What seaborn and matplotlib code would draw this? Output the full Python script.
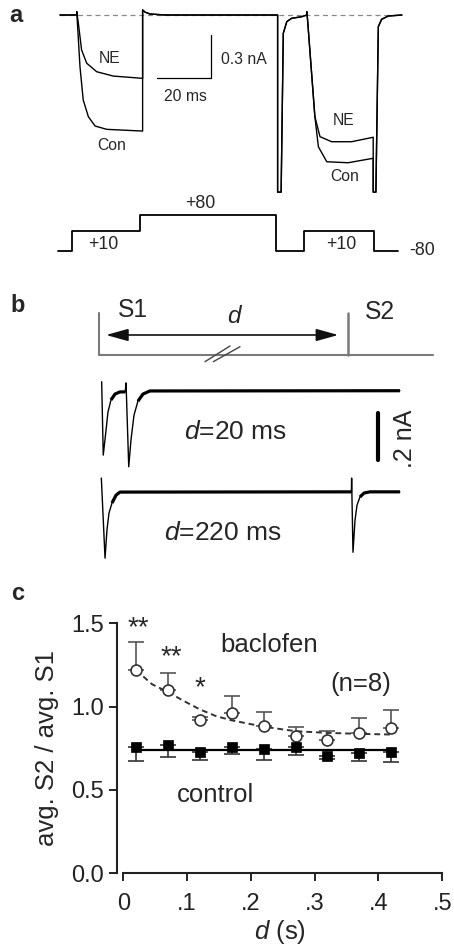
import numpy as np
import matplotlib.pyplot as plt
import seaborn as sns

# ---- panel a: Ca currents (ms, nA) ----
con_t = [0, 6.2, 6.2, 7.4, 8.6, 10.5, 13.0, 17.3, 30.6, 30.6, 31.5, 33.3, 38.9,
         80.6, 80.6, 81.9, 82.7, 84.0, 85.8, 89.5, 91.4, 91.4, 91.7, 94.4, 95.7, 98.8, 106.7, 116.0,
         116.0, 117.0, 117.9, 119.1, 121.6, 126.6]
con_i = [0, 0, 0.023, -0.359, -0.59, -0.706, -0.771, -0.794, -0.806, 0.035, 0.02, 0.007, 0,
         0, -1.23, -1.23, -0.127, -0.046, -0.023, -0.012, 0, 0.023, -0.035, -0.706, -0.915, -1.019, -1.026, -0.995,
         -1.23, -1.23, -0.081, -0.03, -0.007, 0]
ne_t = [0, 6.2, 6.2, 6.8, 8.0, 9.9, 13.6, 19.7, 30.6, 30.6, 31.5, 33.3, 38.9,
        80.6, 80.6, 81.9, 82.7, 84.0, 85.8, 89.5, 91.4, 91.4, 91.7, 94.4, 96.3, 100.6, 108.0, 116.0,
        116.0, 117.0, 117.9, 119.1, 121.6, 126.6]
ne_i = [0, 0, 0.023, -0.058, -0.243, -0.335, -0.394, -0.424, -0.44, 0.035, 0.02, 0.007, 0,
        0, -1.23, -1.23, -0.127, -0.046, -0.023, -0.012, 0, 0.023, -0.035, -0.706, -0.845, -0.88, -0.88, -0.849,
        -1.23, -1.23, -0.081, -0.03, -0.007, 0]

# voltage protocol (ms, mV)
prot_t = [-0.7, 4.3, 29.6, 80.0, 90.4, 116.3, 125.2]
prot_v = [-80, 10, 80, -80, 10, -80, -80]

# ---- panel b: paired-pulse traces (ms, nA) ----
d20_t = [0.6, 2.0, 4.5, 6.2, 8.9, 12.5, 16.9, 21.6, 22.3, 24.7, 26.7, 29.4, 32.9, 37.4, 43.6, 266.2]
d20_i = [0.038, -0.272, -0.166, -0.09, -0.039, -0.014, -0.005, -0.005, 0.033, -0.321, -0.208,
         -0.103, -0.044, -0.014, -0.001, 0]
d220_t = [0.3, 3.6, 5.3, 7.1, 9.8, 13.4, 16.9, 223.0, 223.2, 224.4, 226.2, 228.0, 230.6, 234.2, 239.5, 266.2]
d220_i = [0.058, -0.28, -0.162, -0.09, -0.047, -0.014, -0.001, 0, 0.058, -0.255, -0.12, -0.056,
          -0.022, -0.005, 0, 0]
d220_offset = -0.427

# ---- panel c: S2/S1 ratio ----
d_s = [0.02, 0.07, 0.12, 0.17, 0.22, 0.27, 0.32, 0.37, 0.42]
baclofen = [1.221, 1.098, 0.920, 0.964, 0.884, 0.827, 0.799, 0.843, 0.871]
baclofen_sem = [0.165, 0.107, 0.02, 0.10, 0.084, 0.053, 0.054, 0.087, 0.107]
control = [0.757, 0.769, 0.727, 0.759, 0.749, 0.757, 0.707, 0.723, 0.729]
control_sem = [0.084, 0.072, 0.048, 0.04, 0.066, 0.044, 0.02, 0.05, 0.06]
fit_x = [0.02, 0.045, 0.07, 0.095, 0.12, 0.145, 0.17, 0.22, 0.27, 0.32, 0.37, 0.42]
fit_y = [1.22, 1.135, 1.088, 1.034, 0.984, 0.944, 0.918, 0.88, 0.853, 0.843, 0.837, 0.833]
control_fit_x = [0.02, 0.42]
control_fit_y = [0.743, 0.743]
x_ticks = [0, 0.1, 0.2, 0.3, 0.4, 0.5]
x_ticklabels = ['0', '.1', '.2', '.3', '.4', '.5']
y_ticks = [0.0, 0.5, 1.0, 1.5]

sns.set_theme(style="ticks")
plt.rcParams['font.family'] = ['Liberation Sans', 'DejaVu Sans']
plt.rcParams['mathtext.fontset'] = 'custom'
plt.rcParams['mathtext.it'] = 'Liberation Sans:italic'
plt.rcParams['mathtext.rm'] = 'Liberation Sans'

W, H = 454, 952
fig = plt.figure(figsize=(W / 100, H / 100), dpi=100)


def px_axes(left, top, right, bottom):
    return fig.add_axes([left / W, 1 - bottom / H, (right - left) / W, (bottom - top) / H])


def line(ax, x, y, **kw):
    sns.lineplot(x=x, y=y, ax=ax, sort=False, estimator=None, **kw)


# ---------------- panel a ----------------
ax_a = px_axes(57.3, 0.6, 411, 202.2)
ax_a.set_xlim(-1, 130)
ax_a.set_ylim(-1.3, 0.1)
ax_a.axis('off')
ax_a.plot([0, 126.6], [0, 0], color='#888888', lw=0.9, ls=(0, (4, 3)), zorder=1)
line(ax_a, con_t, con_i, color='black', lw=1.0)
line(ax_a, ne_t, ne_i, color='black', lw=1.0)
# scale bar 20 ms / 0.3 nA
ax_a.plot([35.8, 55.8, 55.8], [-0.44, -0.44, -0.14], color='black', lw=0.9)
ta = dict(fontsize=11.3, ha='center', va='center')
ax_a.text(18.5, -0.30, 'NE', **ta)
ax_a.text(19.1, -0.903, 'Con', **ta)
ax_a.text(104.9, -0.734, 'NE', **ta)
ax_a.text(105.6, -1.123, 'Con', **ta)
ax_a.text(46.3, -0.567, '20 ms', **ta)
ax_a.text(59.5, -0.3125, '0.3 nA', fontsize=11.3, ha='left', va='center')

ax_p = px_axes(57.3, 210.5, 411, 255.5)
ax_p.set_xlim(-1, 130)
ax_p.set_ylim(-100, 100)
ax_p.axis('off')
line(ax_p, prot_t, prot_v, color='black', lw=1.3, drawstyle='steps-post')
tp = dict(fontsize=12.8, ha='center', va='center', clip_on=False)
ax_p.text(16.0, -48.9, '+10', **tp)
ax_p.text(51.9, 128.9, '+80', **tp)
ax_p.text(104.3, -53.3, '+10', **tp)
ax_p.text(134.0, -78.7, '-80', **tp)

# ---------------- panel b ----------------
ax_s = px_axes(95, 300, 440, 367.7)
ax_s.set_xlim(-5.34, 301.9)
ax_s.set_ylim(-0.3, 1.3)
ax_s.axis('off')
gray = '#7a7a7a'
ax_s.plot([-1.8, -1.8, 295.9], [1, 0, 0], color=gray, lw=1.5)
ax_s.plot([219.7, 219.7], [1, 0], color=gray, lw=1.8)
ax_s.plot([-1.8], [0], alpha=0)
ax_s.annotate('', xy=(211.3, 0.473), xytext=(4.5, 0.473),
              arrowprops=dict(arrowstyle='<|-|>,head_length=0.9,head_width=0.25',
                              color='#111111', lw=1.2, mutation_scale=15,
                              shrinkA=0, shrinkB=0))
ax_s.plot([92.6, 114.9], [-0.158, 0.213], color='#444444', lw=1.0)
ax_s.plot([100.0, 123.8], [-0.158, 0.196], color='#444444', lw=1.0)
ax_s.text(28.8, 1.064, 'S1', fontsize=17.7, ha='center', va='center')
ax_s.text(119.3, 0.905, '$d$', fontsize=17.5, ha='center', va='center')
ax_s.text(248.4, 1.024, 'S2', fontsize=17.7, ha='center', va='center')

ax_b = px_axes(95, 370, 440, 570)
ax_b.set_xlim(-5.34, 301.9)
ax_b.set_ylim(-0.757, 0.0875)
ax_b.axis('off')
d220_shift = np.array(d220_i) + d220_offset
line(ax_b, d20_t, d20_i, color='black', lw=1.0)
line(ax_b, d220_t, list(d220_shift), color='black', lw=1.0)
# the noisy baseline parts look thick
for tt, ii, off in [(d20_t, d20_i, 0.0), (d220_t, d220_i, d220_offset)]:
    ii = np.array(ii)
    flat = np.where((np.abs(ii) < 0.05) & (ii < 0.02), ii + off, np.nan)
    ax_b.plot(tt, flat, color='black', lw=2.3, solid_capstyle='butt')
ax_b.plot([246.9, 246.9], [-0.093, -0.293], color='black', lw=3)
ax_b.text(270.7, -0.201, '.2 nA', fontsize=18, rotation=90, ha='center', va='center')
ax_b.text(119.9, -0.173, '$d$=20 ms', fontsize=19, ha='center', va='center')
ax_b.text(108.9, -0.602, '$d$=220 ms', fontsize=19, ha='center', va='center')

# ---------------- panel c ----------------
ax_c = px_axes(116.7, 623.4, 442.3, 873.3)
ax_c.errorbar(d_s, baclofen, yerr=[np.zeros(len(d_s)), baclofen_sem], fmt='none',
              ecolor='#555555', elinewidth=1.2, capsize=5.5, capthick=1.2, zorder=2)
ax_c.errorbar(d_s, control, yerr=[control_sem, np.zeros(len(d_s))], fmt='none',
              ecolor='#333333', elinewidth=1.2, capsize=5.5, capthick=1.2, zorder=2)
line(ax_c, fit_x, fit_y, color='#333333', lw=1.4, dashes=(3, 2))
line(ax_c, control_fit_x, control_fit_y, color='black', lw=1.6)
sns.scatterplot(x=d_s, y=baclofen, ax=ax_c, marker='o', s=62, color='white',
                edgecolor='#333333', linewidth=1.2, zorder=4)
sns.scatterplot(x=d_s, y=control, ax=ax_c, marker='s', s=58, color='black',
                edgecolor='black', linewidth=0.5, zorder=4)
ax_c.set_xlim(-0.0103, 0.5)
ax_c.set_ylim(0, 1.5)
sns.despine(ax=ax_c)
ax_c.spines['left'].set_bounds(0, 1.5)
ax_c.spines['bottom'].set_bounds(0, 0.5)
for s in ['left', 'bottom']:
    ax_c.spines[s].set_linewidth(1.5)
    ax_c.spines[s].set_color('#222222')
ax_c.set_xticks(x_ticks)
ax_c.set_xticklabels(x_ticklabels)
ax_c.set_yticks(y_ticks)
ax_c.set_yticklabels([f'{v:.1f}' for v in y_ticks])
ax_c.tick_params(axis='both', length=6, width=1.4, labelsize=17, colors='#222222')
ax_c.tick_params(axis='x', pad=8)
ax_c.tick_params(axis='y', pad=3)
ax_c.set_xlabel('$d$ (s)', fontsize=18.5, labelpad=2)
ax_c.set_ylabel('avg. S2 / avg. S1', fontsize=18.5, labelpad=9)
tc = dict(fontsize=18.5, ha='center', va='center', clip_on=False)
ax_c.text(0.228, 1.371, 'baclofen', **tc)
ax_c.text(0.373, 1.135, '(n=8)', **tc)
ax_c.text(0.145, 0.472, 'control', **tc)
ax_c.text(0.023, 1.43, '**', fontsize=20, ha='center', va='baseline', clip_on=False)
ax_c.text(0.075, 1.253, '**', fontsize=20, ha='center', va='baseline', clip_on=False)
ax_c.text(0.12, 1.067, '*', fontsize=20, ha='center', va='baseline', clip_on=False)

# panel letters
for lab, (x, y) in zip(['a', 'b', 'c'], [(16, 15), (18, 305), (18, 593)]):
    fig.text(x / W, 1 - y / H, lab, fontsize=17, fontweight='bold', ha='center', va='center')

fig.savefig('out.png', dpi=100)
plt.close(fig)
